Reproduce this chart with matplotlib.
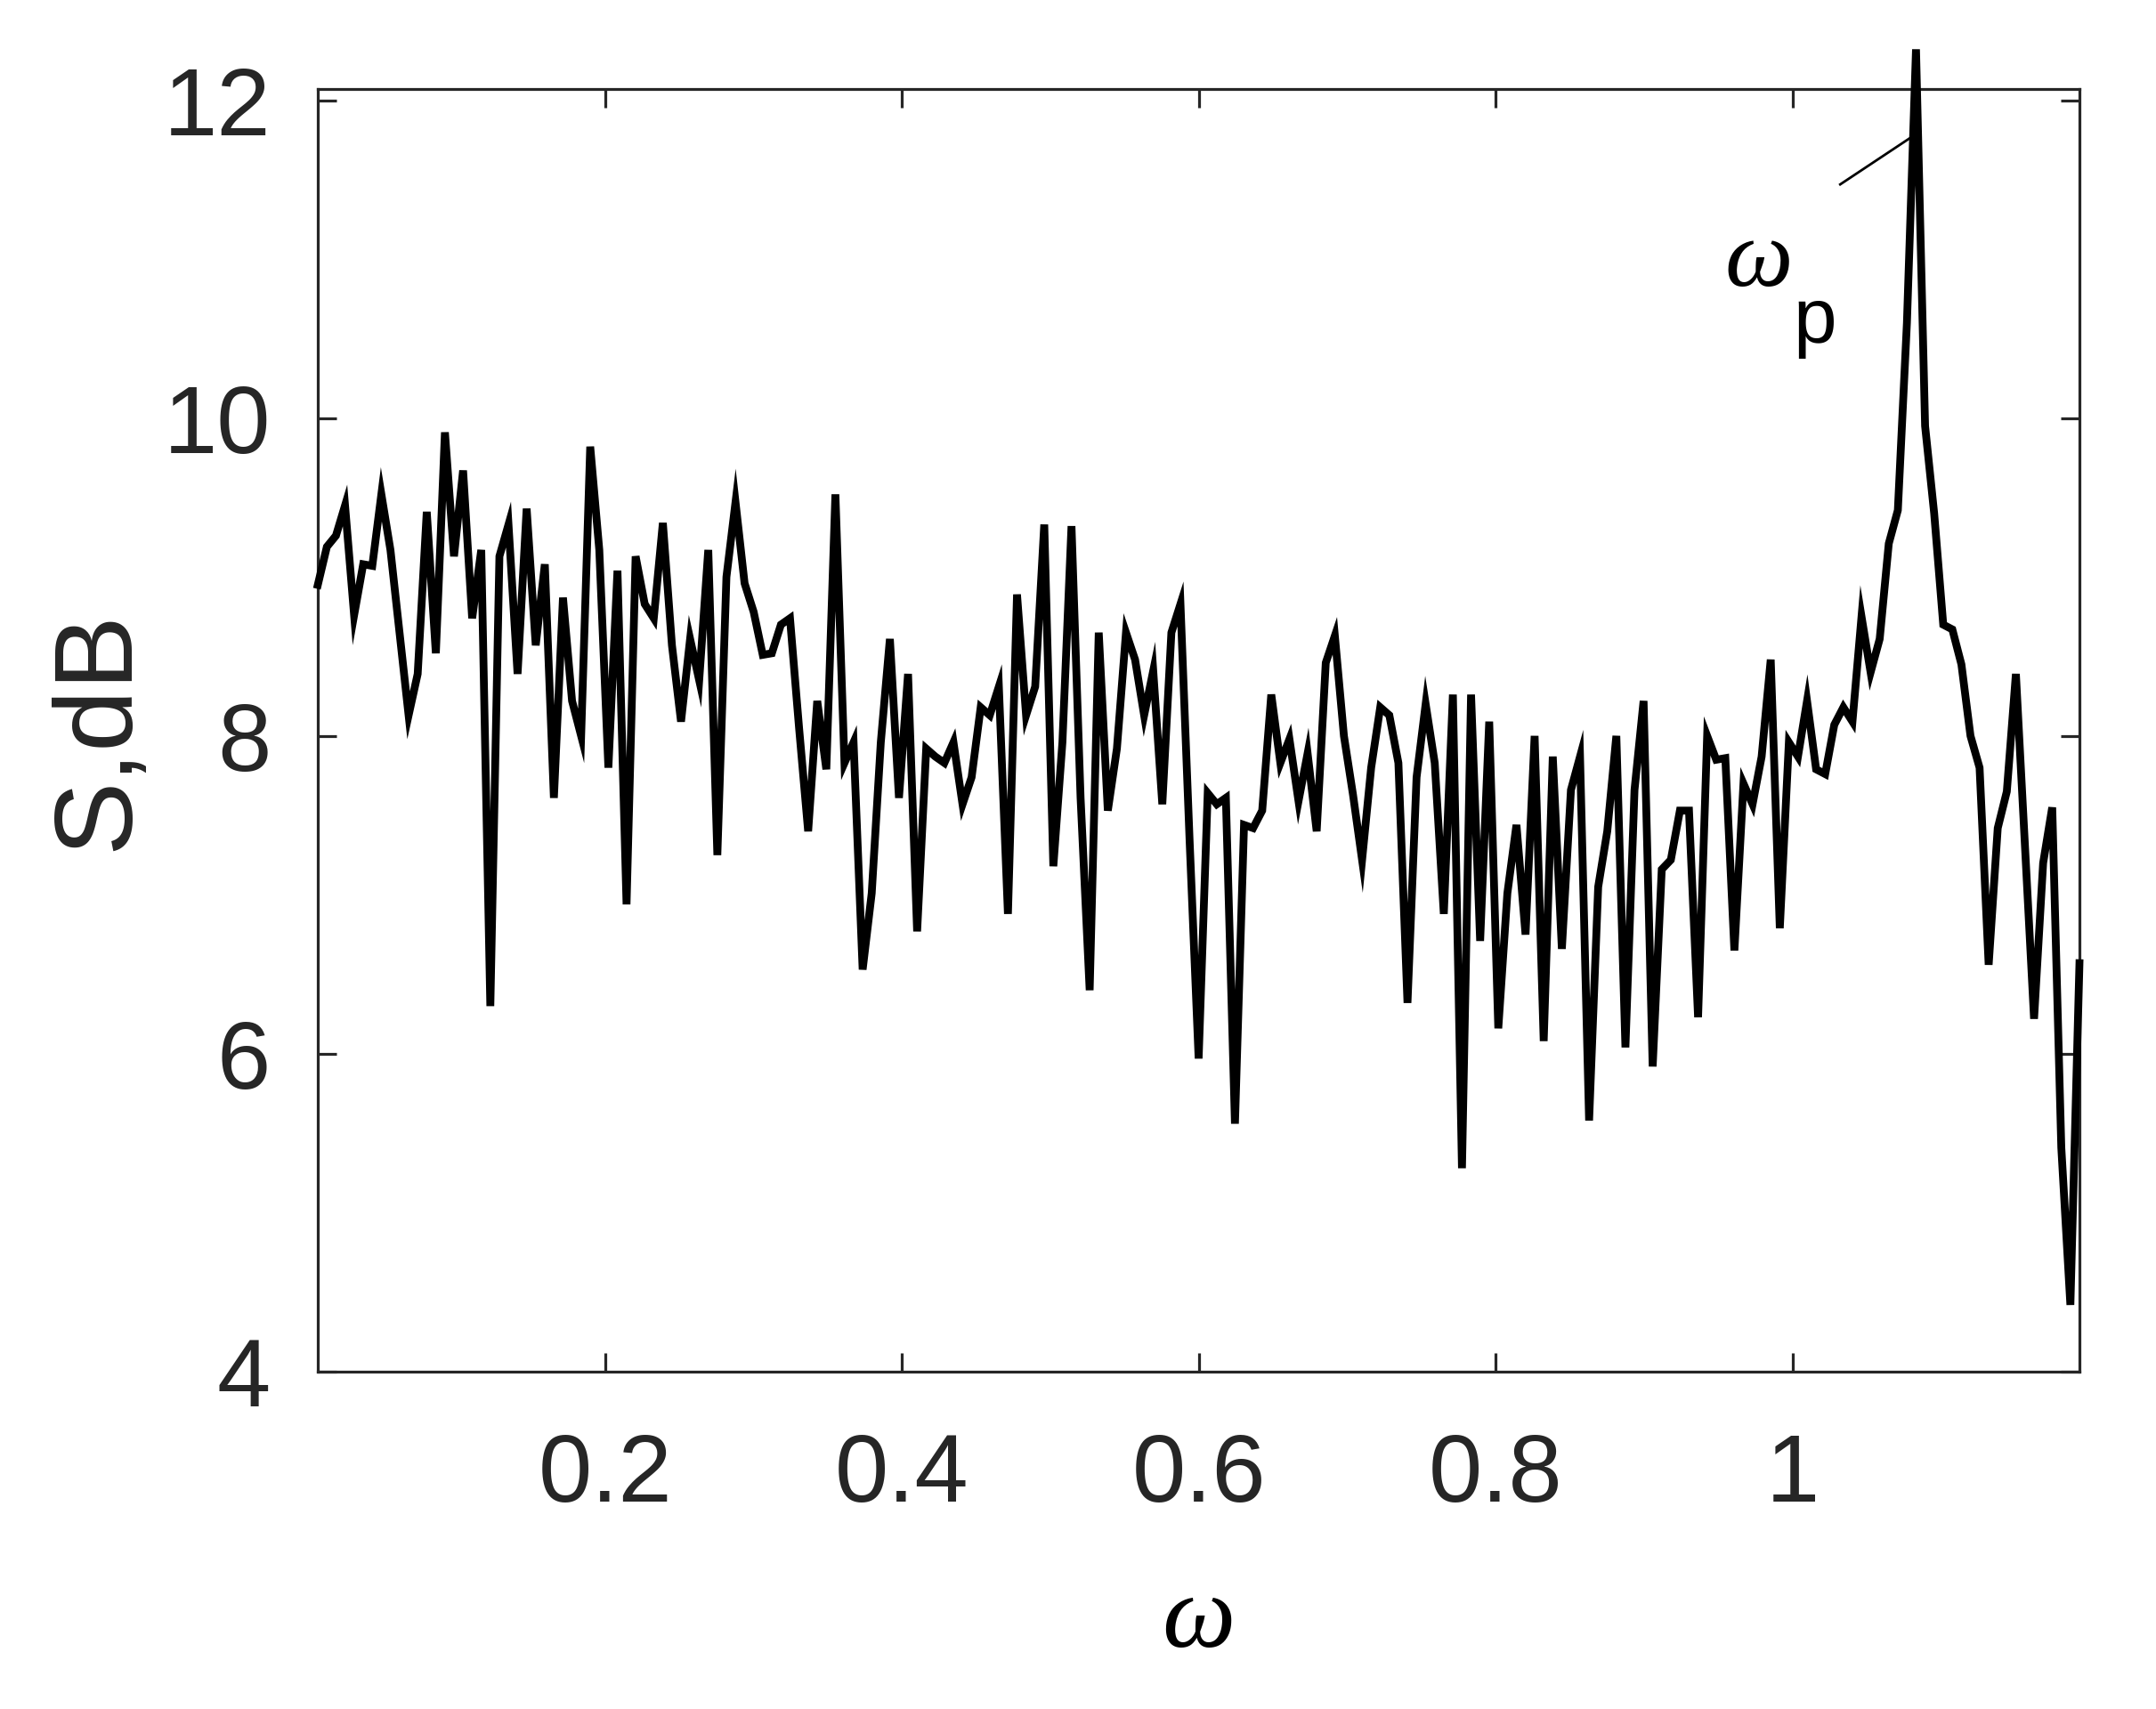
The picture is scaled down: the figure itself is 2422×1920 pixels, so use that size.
import numpy as np
import matplotlib.pyplot as plt

# spectrum values (dB)
S_dB = [
    8.95, 9.19, 9.26, 9.45, 8.76, 9.08, 9.07, 9.52, 9.17, 8.65,
    8.13, 8.39, 9.41, 8.52, 9.91, 9.13, 9.67, 8.74, 9.17, 6.30,
    9.13, 9.33, 8.39, 9.43, 8.57, 9.08, 7.61, 8.87, 8.22, 8.00,
    9.82, 9.17, 7.80, 9.04, 6.94, 9.13, 8.83, 8.74, 9.34, 8.57,
    8.09, 8.61, 8.35, 9.17, 7.25, 9.00, 9.47, 8.96, 8.78, 8.51,
    8.52, 8.70, 8.74, 8.05, 7.40, 8.22, 7.79, 9.52, 7.83, 7.96,
    6.53, 7.01, 7.96, 8.61, 7.61, 8.39, 6.77, 7.92, 7.87, 7.83,
    7.96, 7.57, 7.74, 8.18, 8.13, 8.31, 6.88, 8.89, 8.13, 8.31,
    9.33, 7.18, 7.96, 9.32, 7.61, 6.40, 8.65, 7.53, 7.92, 8.65,
    8.48, 8.13, 8.41, 7.57, 8.65, 8.83, 7.35, 5.97, 7.64, 7.57,
    7.61, 5.56, 7.44, 7.42, 7.53, 8.26, 7.83, 7.98, 7.59, 7.89,
    7.40, 8.46, 8.63, 8.00, 7.63, 7.22, 7.80, 8.18, 8.13, 7.83,
    6.32, 7.74, 8.20, 7.83, 6.88, 8.26, 5.28, 8.26, 6.71, 8.09,
    6.16, 7.01, 7.44, 6.75, 8.00, 6.08, 7.87, 6.66, 7.66, 7.87,
    5.58, 7.05, 7.40, 8.00, 6.04, 7.66, 8.22, 5.92, 7.16, 7.22,
    7.53, 7.53, 6.23, 8.00, 7.85, 7.86, 6.65, 7.70, 7.57, 7.87,
    8.48, 6.79, 7.96, 7.87, 8.22, 7.79, 7.76, 8.07, 8.18, 8.09,
    8.75, 8.40, 8.61, 9.21, 9.42, 10.60, 12.32, 9.95, 9.40, 8.70,
    8.67, 8.45, 8.00, 7.80, 6.56, 7.42, 7.65, 8.39, 7.31, 6.22,
    7.20, 7.55, 5.41, 4.42, 6.57,
]
w_first, w_last = 0.0063, 1.1932
omega = np.linspace(w_first, w_last, len(S_dB))

xticks = [0.2, 0.4, 0.6, 0.8, 1.0]
xtick_labels = ["0.2", "0.4", "0.6", "0.8", "1"]
yticks = [4, 6, 8, 10, 12]
ytick_labels = ["4", "6", "8", "10", "12"]

axis_color = "#262626"

fig = plt.figure(figsize=(24.22, 19.2), dpi=100)
ax = fig.add_axes([0.1474, 0.1974, 0.8171, 0.7505])

ax.plot(omega, S_dB, color="black", lw=6.3, solid_joinstyle="miter", clip_on=False, zorder=3)

ax.set_xlim(w_first, w_last)
ax.set_ylim(4, 12.07)
ax.set_xticks(xticks)
ax.set_xticklabels(xtick_labels)
ax.set_yticks(yticks)
ax.set_yticklabels(ytick_labels)

for s in ax.spines.values():
    s.set_linewidth(2.3)
    s.set_color(axis_color)
ax.tick_params(direction="in", length=15, width=2.3, color=axis_color,
               top=True, right=True, labelcolor=axis_color)
ax.tick_params(axis="x", pad=49)
ax.tick_params(axis="y", pad=38)
for lab in ax.get_xticklabels() + ax.get_yticklabels():
    lab.set_fontfamily("Liberation Sans")
    lab.set_fontsize(78)

ax.set_ylabel("S,dB", fontsize=90, fontfamily="Liberation Sans", color=axis_color)
ax.yaxis.set_label_coords(-0.095, 0.5)
fig.text(0.5557, 0.051, "ω", fontsize=84, fontfamily="Liberation Serif",
         style="italic", ha="center", va="center")

# peak marker
ax.plot([1.032, 1.082], [11.47, 11.78], color="black", lw=2.0, zorder=4)
ax.text(0.977, 10.98, "ω", fontsize=78, fontfamily="Liberation Serif",
        style="italic", ha="center", va="center")
ax.text(1.015, 10.60, "p", fontsize=63, fontfamily="Liberation Sans",
        ha="center", va="center")

fig.savefig("out.png", dpi=100)
